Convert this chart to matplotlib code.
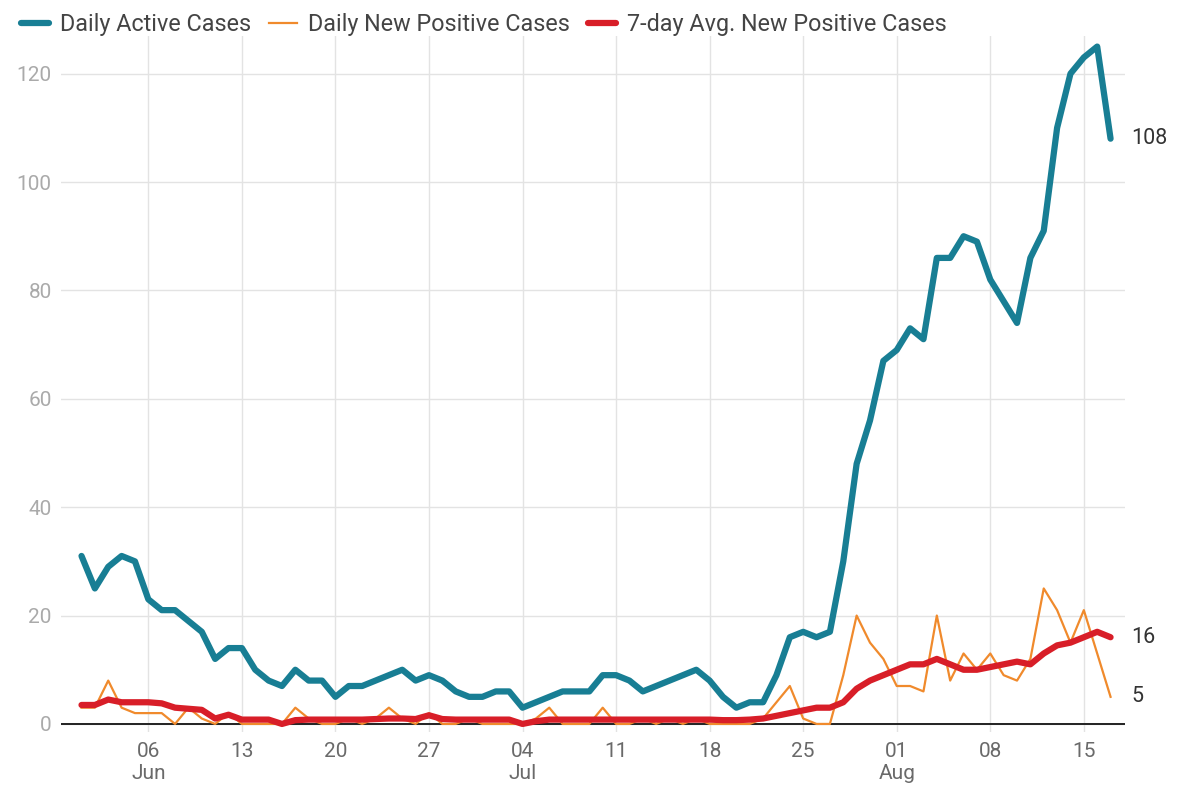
import numpy as np
import pandas as pd
import matplotlib
matplotlib.use("Agg")
import matplotlib.pyplot as plt

plt.rcParams['font.family'] = ['Roboto', 'DejaVu Sans']

# daily values, 1 Jun - 17 Aug
dates = pd.date_range("2021-06-01", "2021-08-17", freq="D")

active = [31, 25, 29, 31, 30, 23, 21, 21, 19, 17, 12, 14, 14, 10, 8, 7, 10, 8, 8, 5,
          7, 7, 8, 9, 10, 8, 9, 8, 6, 5, 5, 6, 6, 3, 4, 5, 6, 6, 6, 9,
          9, 8, 6, 7, 8, 9, 10, 8, 5, 3, 4, 4, 9, 16, 17, 16, 17, 30, 48, 56,
          67, 69, 73, 71, 86, 86, 90, 89, 82, 78, 74, 86, 91, 110, 120, 123, 125, 108]

new_pos = [3, 3, 8, 3, 2, 2, 2, 0, 3, 1, 0, 2, 0, 0, 0, 0, 3, 1, 0, 0,
           1, 0, 1, 3, 1, 0, 2, 0, 0, 1, 0, 0, 0, 0, 1, 3, 0, 0, 0, 3,
           0, 0, 1, 0, 1, 0, 1, 0, 0, 0, 0, 1, 4, 7, 1, 0, 0, 9, 20, 15,
           12, 7, 7, 6, 20, 8, 13, 10, 13, 9, 8, 12, 25, 21, 15, 21, 13, 5]

avg7 = [3.5, 3.5, 4.5, 4, 4, 4, 3.8, 3, 2.8, 2.6, 1, 1.7, 0.8, 0.8, 0.8, 0, 0.7, 0.8, 0.8, 0.8,
        0.8, 0.8, 0.9, 1, 1, 0.9, 1.6, 0.9, 0.8, 0.8, 0.8, 0.8, 0.8, 0, 0.5, 0.8, 0.8, 0.8, 0.8, 0.8,
        0.8, 0.8, 0.8, 0.8, 0.8, 0.8, 0.8, 0.8, 0.7, 0.7, 0.8, 1, 1.5, 2, 2.5, 3, 3, 4, 6.5, 8,
        9, 10, 11, 11, 12, 11, 10, 10, 10.5, 11, 11.5, 11, 13, 14.5, 15, 16, 17, 16]

tick_dates = pd.date_range("2021-06-06", "2021-08-15", freq="7D")
tick_labels = ["06\nJun", "13", "20", "27", "04\nJul", "11", "18", "25", "01\nAug", "08", "15"]

c_active = "#187e94"
c_new = "#f08a2c"
c_avg = "#d81e28"

fig = plt.figure(figsize=(11.82, 7.94), dpi=100)
ax = fig.add_axes([0.052, 0.078, 0.90, 0.877])

ax.plot(dates, active, color=c_active, lw=4.5, solid_joinstyle="round",
        solid_capstyle="round", label="Daily Active Cases", zorder=4)
ax.plot(dates, new_pos, color=c_new, lw=1.6, solid_joinstyle="round",
        label="Daily New Positive Cases", zorder=3)
ax.plot(dates, avg7, color=c_avg, lw=4.5, solid_joinstyle="round",
        solid_capstyle="round", label="7-day Avg. New Positive Cases", zorder=5)

ax.axhline(0, color="#222222", lw=1.4, zorder=2)

ax.set_xlim(dates[0] - pd.Timedelta(days=1.5), dates[-1] + pd.Timedelta(days=1.1))
ax.set_ylim(-1.5, 127)
ax.set_yticks([0, 20, 40, 60, 80, 100, 120])
ax.set_xticks(tick_dates)
ax.set_xticklabels(tick_labels)

ax.grid(True, color="#e3e3e3", lw=1)
ax.set_axisbelow(True)
for s in ax.spines.values():
    s.set_visible(False)
ax.tick_params(axis="both", length=0, labelsize=15)
ax.tick_params(axis="x", pad=7)
ax.tick_params(axis="y", colors="#aaaaaa", pad=7)
for lab in ax.get_xticklabels():
    lab.set_color("#6a6a6a")

# end-of-line labels
for series in (active, new_pos, avg7):
    ax.annotate(f"{series[-1]:g}", xy=(dates[-1], series[-1]), xytext=(15, 0),
                textcoords="offset points", va="center", ha="left",
                fontsize=15.5, color="#333333")

fig.legend(loc="upper left", bbox_to_anchor=(0.0, 1.01), ncol=3, frameon=False,
           fontsize=16.8, handlelength=1.2, handletextpad=0.45, columnspacing=0.8,
           labelcolor="#444444")

fig.savefig("out.png", dpi=100)
